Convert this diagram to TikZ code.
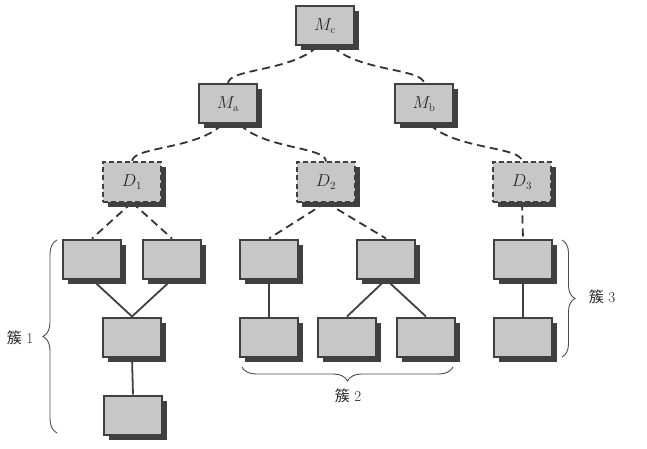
\documentclass[tikz,border=0pt]{standalone}
\usepackage{fontspec}
\newfontfamily\cjk{Noto Sans CJK SC}
\usetikzlibrary{shadows,backgrounds,decorations.pathreplacing}
\begin{document}
\begin{tikzpicture}[x=1pt,y=-1pt,
  box/.style={draw=black!75, line width=2pt, fill=black!22,
    minimum width=58pt, minimum height=39pt, inner sep=0pt,
    font=\fontsize{16}{18}\selectfont, text=black!85,
    drop shadow={shadow xshift=5pt, shadow yshift=-5pt, fill=black!75, opacity=1}},
  dbox/.style={box, dash pattern=on 5pt off 3pt},
  dcon/.style={draw=black!80, line width=1.8pt, dash pattern=on 8pt off 5pt},
  scon/.style={draw=black!75, line width=1.8pt},
  brc/.style={draw=black!70, line width=0.9pt, decorate, decoration={brace, amplitude=#1}},
  lbl/.style={font=\fontsize{15}{17}\selectfont, inner sep=1pt, text=black!85}
]
\useasboundingbox (0,0) rectangle (647,449);

% top levels
\node[box] (Mc) at (325,26) {$M_{\mathrm{c}}$};
\node[box] (Ma) at (228,104) {$M_{\mathrm{a}}$};
\node[box] (Mb) at (424,104) {$M_{\mathrm{b}}$};
\node[dbox] (D1) at (132,182) {$D_1$};
\node[dbox] (D2) at (326,182) {$D_2$};
\node[dbox] (D3) at (522,182) {$D_3$};

% clusters
\node[box] (a1) at (92,259) {};
\node[box] (a2) at (172,259) {};
\node[box] (a3) at (132,337) {};
\node[box] (a4) at (133,415) {};
\node[box] (b1) at (269,259) {};
\node[box] (b2) at (386,259) {};
\node[box] (b3) at (269,337) {};
\node[box] (b4) at (347,337) {};
\node[box] (b5) at (426,337) {};
\node[box] (c1) at (523,259) {};
\node[box] (c2) at (523,337) {};

\begin{scope}[on background layer]
  \draw[dcon] ([xshift=-8pt]Mc.south) .. controls +(-25,25) and +(0,-15) .. (Ma.north);
  \draw[dcon] ([xshift=8pt]Mc.south) .. controls +(25,25) and +(0,-15) .. (Mb.north);
  \draw[dcon] ([xshift=-6pt]Ma.south) .. controls +(-25,25) and +(0,-15) .. (D1.north);
  \draw[dcon] ([xshift=12pt]Ma.south) .. controls +(25,25) and +(0,-15) .. (D2.north);
  \draw[dcon] ([xshift=6pt]Mb.south) .. controls +(25,25) and +(0,-15) .. (D3.north);
  \draw[dcon] (D1.south) -- (a1.north);
  \draw[dcon] (D1.south) -- (a2.north);
  \draw[dcon] (D2.south) -- (b1.north);
  \draw[dcon] (D2.south) -- (b2.north);
  \draw[dcon] (D3.south) -- (c1.north);
  \draw[scon] (a1.south) -- (a3.north);
  \draw[scon] (a2.south) -- (a3.north);
  \draw[scon] (a3.south) -- (a4.north);
  \draw[scon] (b1.south) -- (b3.north);
  \draw[scon] (b2.south) -- (b4.north);
  \draw[scon] (b2.south) -- (b5.north);
  \draw[scon] (c1.south) -- (c2.north);
\end{scope}

% braces
\draw[brc=14pt] (57,433) -- (57,240);
\draw[brc=14pt] (453,367) -- (242,367);
\draw[brc=13pt] (562,240) -- (562,357);

\node[lbl] (L1) at (20,338) {{\cjk 簇}\ 1};
\node[lbl] (L2) at (348,396) {{\cjk 簇}\ 2};
\node[lbl] (L3) at (602,297) {{\cjk 簇}\ 3};
\end{tikzpicture}
\end{document}
